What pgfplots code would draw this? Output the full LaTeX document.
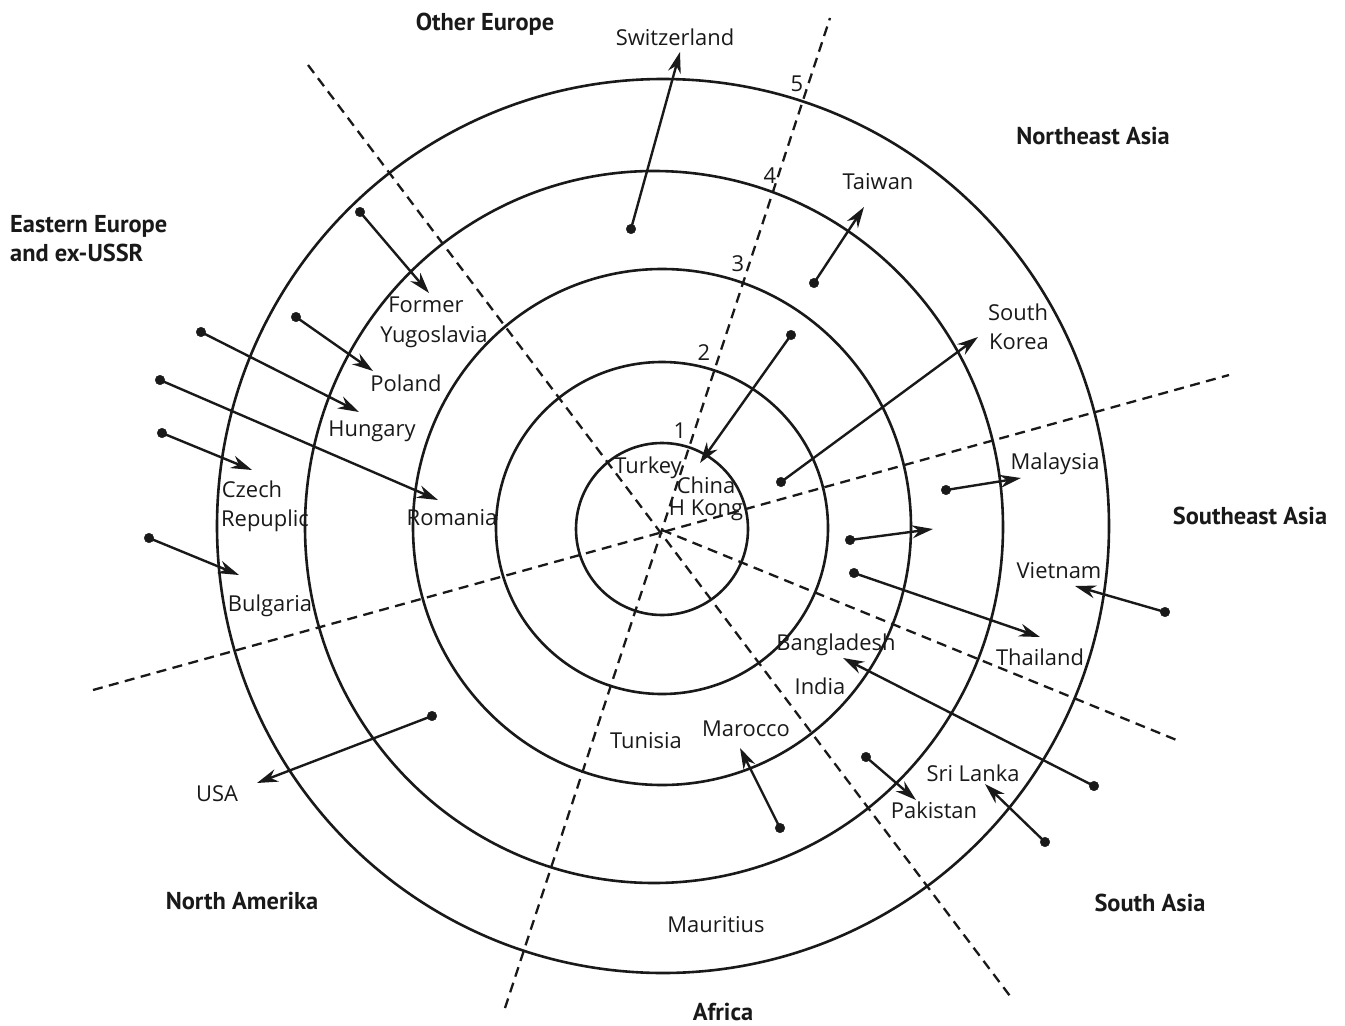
\documentclass[border=0pt]{standalone}
\usepackage{fontspec}
\usepackage{pgfplots}
\pgfplotsset{compat=1.18}
\usetikzlibrary{arrows.meta}
\setmainfont{Open Sans}
\newfontfamily\regfont{PT Sans}
\newcommand{\cf}{\fontsize{22}{26}\selectfont}
\newcommand{\rf}{\regfont\bfseries\fontsize{24.5}{29}\selectfont}
\tikzset{
  arr/.style={line width=2.4bp, black!90, -{Stealth[length=21bp,width=13bp]}},
  dsh/.style={line width=2.3bp, black!90, dash pattern=on 10bp off 6.5bp},
  lab/.style={anchor=base, inner sep=0pt, font=\cf, text=black!90},
  reg/.style={anchor=base, inner sep=0pt, font=\rf, text=black!90},
}
\begin{document}
\begin{tikzpicture}
\begin{axis}[
  x=1bp, y=1bp, y dir=reverse,
  xmin=0, xmax=1345, ymin=0, ymax=1026,
  scale only axis, hide axis, clip=false,
]
\path (axis cs:0,0) rectangle (axis cs:1345,1026);
% circles
\draw[line width=2.6bp, black!90] (axis cs:662,529) ellipse [x radius=86, y radius=86];
\draw[line width=2.6bp, black!90] (axis cs:662,528) ellipse [x radius=166, y radius=166];
\draw[line width=2.6bp, black!90] (axis cs:662,527) ellipse [x radius=249, y radius=258];
\draw[line width=2.6bp, black!90] (axis cs:654,527) ellipse [x radius=349, y radius=356];
\draw[line width=2.6bp, black!90] (axis cs:663,526) ellipse [x radius=446, y radius=447];
% dashed region boundaries
\addplot[dsh] coordinates {(505,1008) (830,18)};
\addplot[dsh] coordinates {(308,65) (1013,1000)};
\addplot[dsh] coordinates {(93,690) (1229,375)};
\addplot[dsh] coordinates {(662,530) (1179,741)};
% arrows (start dot -> arrow tip)
\addplot[arr] coordinates {(631,229) (680,52)};
\addplot[arr] coordinates {(360,212) (429,293)};
\addplot[arr] coordinates {(296,317) (373,371)};
\addplot[arr] coordinates {(201,332) (359,412)};
\addplot[arr] coordinates {(160,380) (438,500)};
\addplot[arr] coordinates {(162,433) (252,470)};
\addplot[arr] coordinates {(149,538) (239,575)};
\addplot[arr] coordinates {(791,335) (700,463)};
\addplot[arr] coordinates {(814,283) (864,207)};
\addplot[arr] coordinates {(781,482) (978,337)};
\addplot[arr] coordinates {(946,490) (1021,478)};
\addplot[arr] coordinates {(850,540) (933,529)};
\addplot[arr] coordinates {(1165,612) (1075,586)};
\addplot[arr] coordinates {(854,573) (1040,637)};
\addplot[arr] coordinates {(1094,786) (843,658)};
\addplot[arr] coordinates {(1045,842) (985,784)};
\addplot[arr] coordinates {(866,757) (916,800)};
\addplot[arr] coordinates {(780,828) (740,748)};
\addplot[arr] coordinates {(432,716) (257,783)};
% dots
\addplot[only marks, mark=*, mark size=4.8bp, black!90] coordinates {
(631,229) (360,212) (296,317) (201,332) (160,380) (162,433) (149,538)
(791,335) (814,283) (781,482) (946,490) (850,540) (1165,612) (854,573)
(1094,786) (1045,842) (866,757) (780,828) (432,716)};
% ring numbers
\node[lab] at (axis cs:680,438) {1};
\node[lab] at (axis cs:704,360) {2};
\node[lab] at (axis cs:738,271) {3};
\node[lab] at (axis cs:770,183) {4};
\node[lab] at (axis cs:797,91) {5};
% region labels
\node[reg] at (axis cs:485,30) {Other Europe};
\node[reg] at (axis cs:1093,144) {Northeast Asia};
\node[reg, anchor=base west] at (axis cs:10,232) {Eastern Europe};
\node[reg, anchor=base west] at (axis cs:10,261) {and ex-USSR};
\node[reg] at (axis cs:1250,524) {Southeast Asia};
\node[reg] at (axis cs:242,909) {North Amerika};
\node[reg] at (axis cs:1150,911) {South Asia};
\node[reg] at (axis cs:723,1020) {Africa};
% country labels
\node[lab] at (axis cs:675,45) {Switzerland};
\node[lab] at (axis cs:878,189) {Taiwan};
\node[lab] at (axis cs:426,312) {Former};
\node[lab] at (axis cs:434,342) {Yugoslavia};
\node[lab] at (axis cs:1018,320) {South};
\node[lab] at (axis cs:1019,349) {Korea};
\node[lab] at (axis cs:406,391) {Poland};
\node[lab] at (axis cs:372,436) {Hungary};
\node[lab] at (axis cs:648,473) {Turkey};
\node[lab] at (axis cs:706,493) {China};
\node[lab] at (axis cs:706,515) {H Kong};
\node[lab] at (axis cs:1055,469) {Malaysia};
\node[lab] at (axis cs:252,497) {Czech};
\node[lab] at (axis cs:265,526) {Repuplic};
\node[lab] at (axis cs:452,525) {Romania};
\node[lab] at (axis cs:1059,578) {Vietnam};
\node[lab] at (axis cs:270,611) {Bulgaria};
\node[lab] at (axis cs:836,650) {Bangladesh};
\node[lab] at (axis cs:1040,665) {Thailand};
\node[lab] at (axis cs:820,694) {India};
\node[lab] at (axis cs:746,736) {Marocco};
\node[lab] at (axis cs:646,748) {Tunisia};
\node[lab] at (axis cs:973,781) {Sri Lanka};
\node[lab] at (axis cs:217,801) {USA};
\node[lab] at (axis cs:934,818) {Pakistan};
\node[lab] at (axis cs:716,932) {Mauritius};
\end{axis}
\end{tikzpicture}
\end{document}
